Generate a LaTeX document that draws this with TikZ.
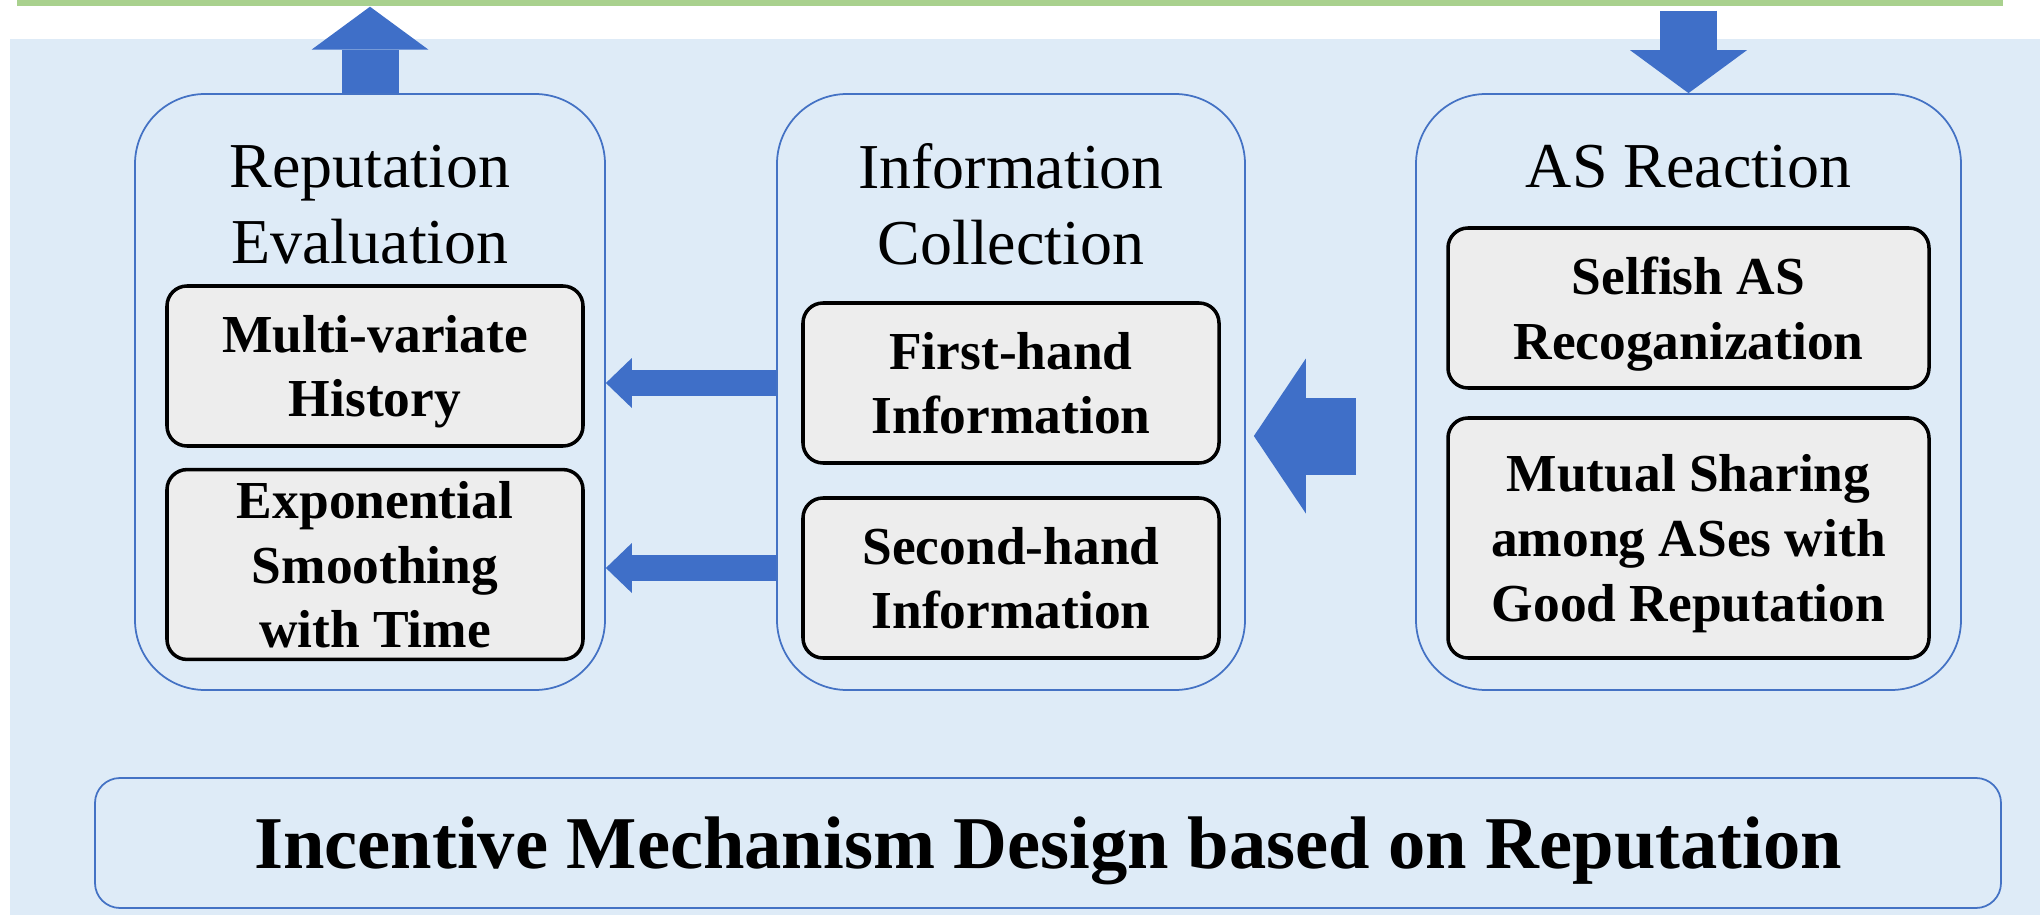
\documentclass[tikz,border=0pt]{standalone}
\usepackage{fontspec}
\setmainfont{Liberation Serif}
\usepackage{xcolor}
\definecolor{bgblue}{HTML}{DEEBF7}
\definecolor{lineblue}{HTML}{4472C4}
\definecolor{arrblue}{HTML}{3F6FC8}
\definecolor{bargreen}{HTML}{A9D18E}
\definecolor{cellgray}{HTML}{EDEDED}
\usetikzlibrary{arrows.meta, positioning, calc}

\begin{document}
\begin{tikzpicture}[
  stage/.style={rectangle, rounded corners=7mm, draw=lineblue, line width=0.5pt,
                minimum height=5.96cm},
  stagetitle/.style={align=center, font=\fontsize{18.2}{21.6}\selectfont},
  cell/.style={rectangle, rounded corners=2mm, draw=black, line width=1pt, fill=cellgray,
               minimum height=1.60cm, align=center, text depth=0pt,
               font=\fontsize{15.2}{18.4}\selectfont\bfseries},
  vertarr/.style={line width=0.57cm, draw=arrblue,
                  -{Triangle[length=0.43cm, width=1.17cm, line width=0pt]}},
  thinarr/.style={line width=0.26cm, draw=arrblue,
                  -{Triangle[length=0.26cm, width=0.50cm, line width=0pt]}},
  widearr/.style={line width=0.77cm, draw=arrblue,
                  -{Triangle[length=0.52cm, width=1.55cm, line width=0pt]}}
]
\useasboundingbox (0,0) rectangle (20.40,-9.15);
\fill[bgblue] (0.10,-0.39) rectangle (20.40,-9.15);
\node[fill=bargreen, inner sep=0pt, minimum width=19.86cm, minimum height=0.06cm]
  (bar) at (10.10,-0.03) {};

% Stages
\node[stage, minimum width=4.70cm] (rep) at (3.70,-3.92) {};
\node[stage, minimum width=4.68cm] (info) at (10.11,-3.92) {};
\node[stage, minimum width=5.45cm] (react) at (16.885,-3.92) {};

\node[stagetitle] (reptitle) at (3.70,-2.045) {Reputation\\Evaluation};
\node[stagetitle] (infotitle) at (10.11,-2.045) {Information\\Collection};
\node[stagetitle] (reacttitle) at (16.885,-1.67) {AS Reaction};

% Items
\node[cell, minimum width=4.16cm] (mvh) at (3.75,-3.66) {Multi-variate\\History};
\node[cell, minimum width=4.16cm, minimum height=1.87cm] (exp) at (3.75,-5.645)
  {Exponential\\Smoothing\\with Time};
\node[cell, minimum width=4.16cm] (fh) at (10.11,-3.83) {First-hand\\Information};
\node[cell, minimum width=4.16cm] (sh) at (10.11,-5.78) {Second-hand\\Information};
\node[cell, minimum width=4.81cm] (sel) at (16.885,-3.08) {Selfish AS\\Recoganization};
\node[cell, minimum width=4.81cm, minimum height=2.40cm] (mut) at (16.885,-5.38)
  {Mutual Sharing\\among ASes with\\Good Reputation};

% Banner
\node[rectangle, rounded corners=2.5mm, draw=lineblue, line width=0.5pt,
      minimum width=19.06cm, minimum height=1.30cm, text depth=0pt,
      font=\fontsize{21.2}{25}\selectfont\bfseries]
  (mech) at (10.48,-8.43) {Incentive Mechanism Design based on Reputation};

% Flows
\draw[vertarr] (rep.north) -- (rep.north |- bar.south);
\draw[vertarr] ($(react.north |- bar.south)+(0,-0.04)$) -- (react.north);
\draw[thinarr] (fh.west -| info.west) -- (fh.west -| rep.east);
\draw[thinarr] ($(sh.west -| info.west)+(0,0.10)$) -- ($(sh.west -| rep.east)+(0,0.10)$);
\draw[widearr] ($(react.west)+(-0.59,-0.44)$) -- ($(info.east)+(0.08,-0.44)$);
\end{tikzpicture}
\end{document}
